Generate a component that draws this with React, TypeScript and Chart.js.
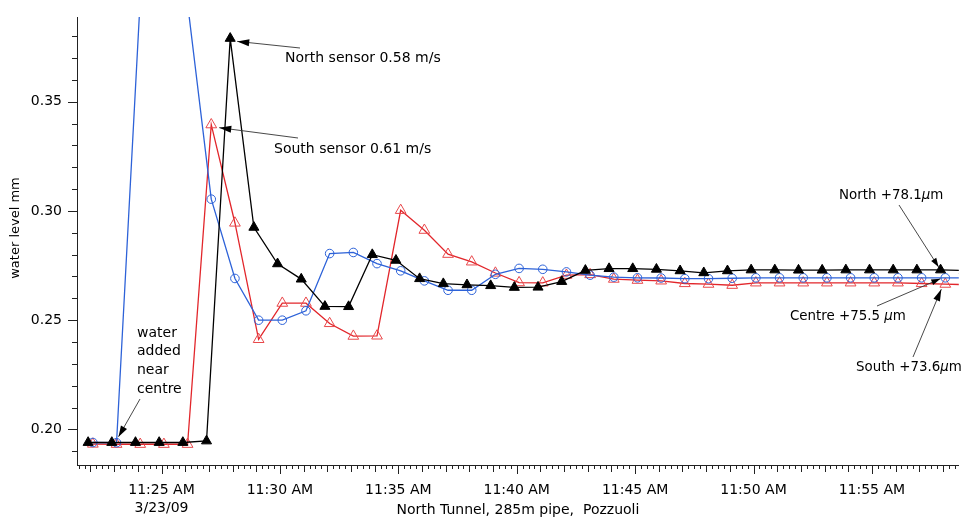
import React, { useEffect, useRef } from "react";
import { Chart, registerables } from "chart.js";

Chart.register(...registerables);

// time in minutes after 11:00 AM, 3/23/09
const northMinutes = [21.9, 22.9, 23.9, 24.9, 25.9, 26.9, 27.9, 28.9, 29.9, 30.9, 31.9, 32.9, 33.9, 34.9, 35.9, 36.9, 37.9, 38.9, 39.9, 40.9, 41.9, 42.9, 43.9, 44.9, 45.9, 46.9, 47.9, 48.9, 49.9, 50.9, 51.9, 52.9, 53.9, 54.9, 55.9, 56.9, 57.9, 58.9];
const northLevel = [0.194, 0.194, 0.194, 0.194, 0.194, 0.1947, 0.379, 0.2925, 0.2758, 0.2688, 0.2563, 0.2562, 0.28, 0.2774, 0.269, 0.2667, 0.2662, 0.2658, 0.265, 0.2651, 0.2677, 0.2728, 0.2736, 0.2736, 0.2733, 0.2726, 0.2717, 0.2726, 0.273, 0.273, 0.2729, 0.2729, 0.273, 0.273, 0.273, 0.273, 0.273, 0.2728];

const southMinutes = [22.1, 23.1, 24.1, 25.1, 26.1, 27.1, 28.1, 29.1, 30.1, 31.1, 32.1, 33.1, 34.1, 35.1, 36.1, 37.1, 38.1, 39.1, 40.1, 41.1, 42.1, 43.1, 44.1, 45.1, 46.1, 47.1, 48.1, 49.1, 50.1, 51.1, 52.1, 53.1, 54.1, 55.1, 56.1, 57.1, 58.1, 59.1];
const southLevel = [0.1933, 0.1932, 0.1932, 0.1932, 0.1932, 0.3395, 0.2945, 0.2412, 0.2578, 0.2578, 0.2485, 0.2427, 0.2428, 0.3003, 0.2912, 0.2802, 0.2767, 0.2716, 0.2672, 0.2671, 0.2706, 0.2709, 0.2688, 0.2683, 0.268, 0.2668, 0.2665, 0.266, 0.2671, 0.2671, 0.2671, 0.2671, 0.2671, 0.2671, 0.2671, 0.2668, 0.2665, 0.2662];

const centreMinutes = [22.1, 23.1, 24.1, 25.1, 26.1, 27.1, 28.1, 29.1, 30.1, 31.1, 32.1, 33.1, 34.1, 35.1, 36.1, 37.1, 38.1, 39.1, 40.1, 41.1, 42.1, 43.1, 44.1, 45.1, 46.1, 47.1, 48.1, 49.1, 50.1, 51.1, 52.1, 53.1, 54.1, 55.1, 56.1, 57.1, 58.1, 59.1];
const centreLevel = [0.194, 0.1939, 0.397, 0.47, 0.395, 0.3054, 0.2691, 0.25, 0.25, 0.2543, 0.2805, 0.281, 0.2759, 0.2726, 0.268, 0.2637, 0.2637, 0.271, 0.2737, 0.2733, 0.2721, 0.2706, 0.2697, 0.2694, 0.2693, 0.269, 0.269, 0.2692, 0.2694, 0.2694, 0.2694, 0.2694, 0.2694, 0.2694, 0.2694, 0.2694, 0.2694, 0.2694];

const xTickMinutes = [25, 30, 35, 40, 45, 50, 55];
const yTickValues = [0.2, 0.25, 0.3, 0.35];
const dateLabel = "3/23/09";

const X_MIN = 21.43;
const X_MAX = 58.67;
const Y_MIN = 0.1837;
const Y_MAX = 0.3888;

const FONT = "'DejaVu Sans', Verdana, sans-serif";
const RED = "#e2262b";
const RED_MARK = "#e8484b";
const BLUE = "#2d62d8";

function arrow(ctx: CanvasRenderingContext2D, x1: number, y1: number, x2: number, y2: number, head: number, half: number) {
  ctx.beginPath();
  ctx.moveTo(x1, y1);
  ctx.lineTo(x2, y2);
  ctx.stroke();
  if (head > 0) {
    const a = Math.atan2(y2 - y1, x2 - x1);
    const bx = x2 - Math.cos(a) * head;
    const by = y2 - Math.sin(a) * head;
    ctx.beginPath();
    ctx.moveTo(x2, y2);
    ctx.lineTo(bx - Math.sin(a) * half, by + Math.cos(a) * half);
    ctx.lineTo(bx + Math.sin(a) * half, by - Math.cos(a) * half);
    ctx.closePath();
    ctx.fill();
  }
}

function rich(ctx: CanvasRenderingContext2D, parts: [string, boolean][], x: number, y: number, size: number) {
  let cx = x;
  ctx.textAlign = "left";
  ctx.textBaseline = "middle";
  for (const [t, italic] of parts) {
    ctx.font = `${italic ? "italic " : ""}${size}px ${FONT}`;
    ctx.fillText(t, cx, y);
    cx += ctx.measureText(t).width;
  }
}

const decor = {
  id: "decor",
  afterDraw(chart: any) {
    const { ctx, chartArea, scales } = chart;
    const xs = scales.x;
    const ys = scales.y;
    const pix = (m: number, v: number) => ({ x: xs.getPixelForValue(m), y: ys.getPixelForValue(v) });
    ctx.save();
    ctx.strokeStyle = "#222";
    ctx.fillStyle = "#000";
    ctx.lineWidth = 1;
    // x ticks every 15 s, medium each minute, major each 5 minutes
    for (let i = Math.ceil(X_MIN * 4); i <= Math.floor(X_MAX * 4); i++) {
      const len = i % 20 === 0 ? 9 : i % 4 === 0 ? 7 : 4;
      const px = Math.round(xs.getPixelForValue(i / 4)) + 0.5;
      ctx.beginPath();
      ctx.moveTo(px, chartArea.bottom);
      ctx.lineTo(px, chartArea.bottom + len);
      ctx.stroke();
    }
    // y ticks every 0.01
    for (let i = Math.ceil(Y_MIN * 100 - 1e-6); i <= Math.floor(Y_MAX * 100 + 1e-6); i++) {
      const len = i % 5 === 0 ? 9 : 5;
      const py = Math.round(ys.getPixelForValue(i / 100)) + 0.5;
      ctx.beginPath();
      ctx.moveTo(chartArea.left - len, py);
      ctx.lineTo(chartArea.left, py);
      ctx.stroke();
    }
    // axis titles
    ctx.font = `14px ${FONT}`;
    ctx.textAlign = "center";
    ctx.textBaseline = "middle";
    ctx.fillText("North Tunnel, 285m pipe,  Pozzuoli", (chartArea.left + chartArea.right) / 2, 510);
    ctx.save();
    ctx.translate(16, 228);
    ctx.rotate(-Math.PI / 2);
    ctx.font = `13px ${FONT}`;
    ctx.fillText("water level mm", 0, 0);
    ctx.restore();

    // annotations
    ctx.strokeStyle = "#333";
    ctx.fillStyle = "#000";
    ctx.lineWidth = 0.9;
    ctx.font = `14px ${FONT}`;
    ctx.textAlign = "left";
    ctx.textBaseline = "middle";

    const nPeak = pix(northMinutes[6], northLevel[6]);
    arrow(ctx, 300, 48, nPeak.x + 7, nPeak.y + 3, 12, 3.5);
    ctx.fillText("North sensor 0.58 m/s", 285, 58);

    const sPeak = pix(southMinutes[5], southLevel[5]);
    arrow(ctx, 298, 138, sPeak.x + 8, sPeak.y + 3, 12, 3.5);
    ctx.fillText("South sensor 0.61 m/s", 274, 149);

    const start = pix(centreMinutes[1], centreLevel[1]);
    arrow(ctx, 140, 399, start.x + 2, start.y - 6, 11, 3.5);
    ["water", "added", "near", "centre"].forEach((t, i) => ctx.fillText(t, 137, 333 + i * 18.7));

    const nEnd = pix(northMinutes[36], northLevel[36]);
    arrow(ctx, 899, 205, nEnd.x - 2, nEnd.y - 3, 9, 3);
    rich(ctx, [["North +78.1", false], ["\u03bc", true], ["m", false]], 839, 196, 13.4);

    const cEnd = pix(centreMinutes[36], centreLevel[36]);
    arrow(ctx, 877, 306, cEnd.x - 5, cEnd.y + 1, 9, 3);
    rich(ctx, [["Centre +75.5 ", false], ["\u03bc", true], ["m", false]], 790, 317, 13.4);

    const sEnd = pix(southMinutes[36], southLevel[36]);
    arrow(ctx, 913, 357, sEnd.x - 4, sEnd.y + 5, 12, 3.5);
    rich(ctx, [["South +73.6", false], ["\u03bc", true], ["m", false]], 856, 368, 13.4);
    ctx.restore();
  },
};

function timeLabel(v: number): string | string[] {
  const s = `11:${String(v).padStart(2, "0")} AM`;
  return v === 25 ? [s, dateLabel] : s;
}

export default function App() {
  const ref = useRef<HTMLCanvasElement>(null);
  useEffect(() => {
    if (!ref.current) return;
    const toXY = (ms: number[], vs: number[]) => ms.map((m, i) => ({ x: m, y: vs[i] }));
    const chart = new Chart(ref.current, {
      type: "line",
      data: {
        datasets: [
          {
            label: "North",
            data: toXY(northMinutes, northLevel),
            borderColor: "#000",
            backgroundColor: "#000",
            borderWidth: 1.3,
            pointStyle: "triangle",
            pointRadius: 5.8,
            pointBackgroundColor: "#000",
            pointBorderColor: "#000",
            pointBorderWidth: 1,
            tension: 0,
            order: 0,
          },
          {
            label: "Centre",
            data: toXY(centreMinutes, centreLevel),
            borderColor: BLUE,
            backgroundColor: BLUE,
            borderWidth: 1.3,
            pointStyle: "circle",
            pointRadius: 4.3,
            pointBackgroundColor: "rgba(0,0,0,0)",
            pointBorderColor: BLUE,
            pointBorderWidth: 1,
            tension: 0,
            order: 1,
          },
          {
            label: "South",
            data: toXY(southMinutes, southLevel),
            borderColor: RED,
            backgroundColor: RED,
            borderWidth: 1.3,
            pointStyle: "triangle",
            pointRadius: 6.2,
            pointBackgroundColor: "rgba(0,0,0,0)",
            pointBorderColor: RED_MARK,
            pointBorderWidth: 1,
            tension: 0,
            order: 2,
          },
        ],
      },
      options: {
        animation: false,
        responsive: false,
        events: [],
        layout: { padding: { top: 17, right: 0, left: 0, bottom: 0 } },
        plugins: { legend: { display: false }, tooltip: { enabled: false } },
        scales: {
          x: {
            type: "linear",
            min: X_MIN,
            max: X_MAX,
            afterBuildTicks: (s: any) => {
              s.ticks = xTickMinutes.map((v) => ({ value: v }));
            },
            afterFit: (s: any) => {
              s.height = 53;
            },
            ticks: {
              callback: (v: any) => timeLabel(Number(v)),
              font: { family: FONT, size: 14, lineHeight: 1.3 },
              color: "#000",
              padding: 7,
              maxRotation: 0,
              autoSkip: false,
            },
            grid: { display: false, drawTicks: true, tickLength: 9 },
            border: { display: true, color: "#222", width: 1 },
          },
          y: {
            type: "linear",
            min: Y_MIN,
            max: Y_MAX,
            afterBuildTicks: (s: any) => {
              s.ticks = yTickValues.map((v) => ({ value: v }));
            },
            afterFit: (s: any) => {
              s.width = 77;
            },
            ticks: {
              callback: (v: any) => Number(v).toFixed(2),
              font: { family: FONT, size: 14 },
              color: "#000",
              padding: 6,
            },
            grid: { display: false, drawTicks: true, tickLength: 9 },
            border: { display: true, color: "#222", width: 1 },
          },
        },
      },
      plugins: [decor],
    } as any);
    return () => chart.destroy();
  }, []);
  return (
    <div style={{ position: "fixed", left: 0, top: 0, width: 966, height: 518, background: "#fff" }}>
      <canvas ref={ref} width={966} height={518} style={{ display: "block" }} />
    </div>
  );
}
